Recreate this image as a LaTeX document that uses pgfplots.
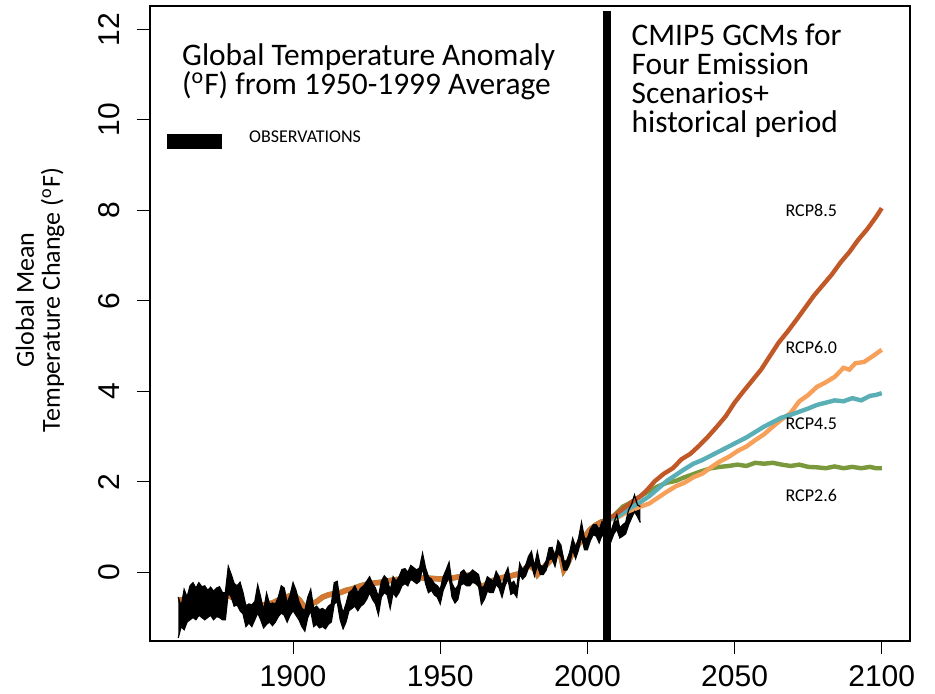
\documentclass[border=0pt]{standalone}
\usepackage{fontspec}
\setmainfont{Carlito}
\newfontfamily\arialfont{Liberation Sans}
\usepackage{pgfplots}
\usepackage{pgfplotstable}
\pgfplotsset{compat=1.18}
\usepgfplotslibrary{fillbetween}
\definecolor{c85}{RGB}{192,88,40}
\definecolor{c60}{RGB}{247,160,90}
\definecolor{c45}{RGB}{90,175,182}
\definecolor{c26}{RGB}{122,152,60}
\definecolor{histc}{RGB}{214,120,52}

\pgfplotstableread{
yr u l
1861 -0.55 -1.45
1862 -0.75 -1.20
1863 -0.38 -1.27
1864 -0.55 -1.10
1865 -0.30 -1.05
1866 -0.23 -1.00
1867 -0.35 -1.05
1868 -0.23 -0.95
1869 -0.32 -1.00
1870 -0.30 -1.05
1871 -0.40 -1.00
1872 -0.33 -0.95
1873 -0.42 -1.05
1874 -0.35 -0.98
1875 -0.32 -1.00
1876 -0.45 -1.05
1877 -0.45 -1.05
1878 0.13 -0.45
1879 -0.05 -0.55
1880 -0.25 -0.75
1881 -0.30 -0.72
1882 -0.22 -0.85
1883 -0.45 -0.92
1884 -0.75 -1.20
1885 -0.70 -1.12
1886 -0.72 -1.20
1887 -0.65 -1.05
1888 -0.28 -0.90
1889 -0.55 -1.05
1890 -0.85 -1.23
1891 -0.46 -1.15
1892 -0.70 -1.10
1893 -0.68 -1.18
1894 -0.70 -1.10
1895 -0.55 -0.98
1896 -0.30 -0.90
1897 -0.35 -0.95
1898 -0.68 -1.10
1899 -0.50 -0.95
1900 -0.23 -0.85
1901 -0.40 -0.95
1902 -0.65 -1.05
1903 -0.80 -1.20
1904 -0.85 -1.30
1905 -0.55 -1.00
1906 -0.38 -0.85
1907 -0.80 -1.20
1908 -0.75 -1.15
1909 -0.83 -1.23
1910 -0.80 -1.20
1911 -0.85 -1.25
1912 -0.75 -1.15
1913 -0.70 -1.10
1914 -0.23 -0.70
1915 -0.20 -0.65
1916 -0.65 -1.05
1917 -0.90 -1.25
1918 -0.70 -1.10
1919 -0.45 -0.85
1920 -0.40 -0.80
1921 -0.30 -0.75
1922 -0.45 -0.85
1923 -0.35 -0.75
1924 -0.30 -0.70
1925 -0.20 -0.60
1926 -0.10 -0.45
1927 -0.25 -0.60
1928 -0.35 -0.70
1929 -0.55 -0.94
1930 -0.20 -0.55
1931 -0.08 -0.45
1932 -0.15 -0.50
1933 -0.40 -0.80
1934 -0.10 -0.45
1935 -0.20 -0.55
1936 -0.10 -0.45
1937 0.06 -0.30
1938 0.08 -0.25
1939 0.00 -0.30
1940 0.15 -0.15
1941 0.10 -0.20
1942 0.05 -0.25
1943 0.10 -0.20
1944 0.42 0.10
1945 0.10 -0.25
1946 -0.10 -0.45
1947 -0.15 -0.40
1948 -0.25 -0.50
1949 -0.30 -0.55
1950 -0.38 -0.70
1951 -0.10 -0.40
1952 0.05 -0.25
1953 0.22 -0.10
1954 -0.25 -0.55
1955 -0.38 -0.68
1956 -0.30 -0.60
1957 0.00 -0.28
1958 0.05 -0.25
1959 -0.05 -0.30
1960 -0.02 -0.30
1961 0.05 -0.22
1962 0.00 -0.25
1963 -0.05 -0.30
1964 -0.35 -0.71
1965 -0.30 -0.60
1966 -0.10 -0.42
1967 -0.15 -0.45
1968 -0.20 -0.45
1969 0.02 -0.27
1970 -0.10 -0.35
1971 -0.31 -0.55
1972 -0.05 -0.30
1973 0.10 -0.15
1974 -0.25 -0.49
1975 -0.20 -0.45
1976 -0.35 -0.55
1977 0.20 -0.05
1978 0.05 -0.15
1979 0.15 -0.08
1980 0.35 0.10
1981 0.46 0.17
1982 0.13 -0.08
1983 0.45 0.15
1984 0.15 -0.05
1985 0.13 -0.05
1986 0.25 0.05
1987 0.54 0.28
1988 0.55 0.30
1989 0.35 0.13
1990 0.70 0.42
1991 0.60 0.35
1992 0.25 0.05
1993 0.25 0.05
1994 0.45 0.20
1995 0.75 0.50
1996 0.55 0.30
1997 0.75 0.50
1998 1.10 0.80
1999 0.75 0.50
2000 0.75 0.50
2001 0.95 0.70
2002 1.05 0.83
2003 1.05 0.80
2004 0.95 0.65
2005 1.12 0.83
2006 1.00 0.75
2007 1.05 0.80
2008 0.90 0.68
2009 1.10 0.85
2010 1.27 0.95
2011 0.98 0.76
2012 1.05 0.80
2013 1.10 0.85
2014 1.38 1.05
2015 1.50 1.20
2016 1.71 1.34
2017 1.49 1.23
2018 1.45 1.10
}\obstab

\pgfplotstableread{
yr t
1861 -0.62
1865 -0.58
1870 -0.52
1875 -0.50
1878 -0.52
1880 -0.57
1882 -0.60
1884 -0.80
1886 -0.82
1888 -0.76
1890 -0.72
1893 -0.68
1896 -0.58
1900 -0.50
1902 -0.60
1904 -0.78
1906 -0.70
1908 -0.65
1910 -0.55
1912 -0.50
1914 -0.47
1916 -0.45
1918 -0.40
1920 -0.37
1923 -0.30
1926 -0.25
1930 -0.22
1934 -0.17
1938 -0.14
1942 -0.12
1946 -0.13
1950 -0.15
1954 -0.13
1958 -0.08
1961 -0.05
1963 -0.25
1964 -0.33
1966 -0.25
1968 -0.18
1971 -0.12
1974 -0.08
1977 -0.03
1980 0.15
1982 0.08
1983 -0.05
1985 0.10
1988 0.30
1990 0.45
1991 0.35
1992 0.05
1993 0.15
1995 0.45
1997 0.62
1999 0.78
2001 0.95
2003 1.05
2005 1.12
}\histtab

\pgfplotstableread{
yr t
2005 1.12
2009 1.25
2012 1.40
2015 1.55
2018 1.68
2020 1.80
2023 2.02
2026 2.18
2029 2.30
2032 2.50
2035 2.62
2038 2.80
2041 3.00
2044 3.22
2047 3.45
2050 3.75
2053 4.00
2056 4.24
2059 4.48
2062 4.78
2065 5.08
2068 5.32
2071 5.58
2074 5.85
2077 6.12
2080 6.35
2083 6.58
2086 6.85
2089 7.08
2092 7.35
2095 7.58
2098 7.85
2100 8.05
}\rcpA

\pgfplotstableread{
yr t
2005 1.12
2010 1.20
2014 1.35
2018 1.45
2021 1.52
2024 1.65
2027 1.78
2030 1.90
2033 1.98
2036 2.10
2039 2.18
2042 2.32
2045 2.45
2048 2.55
2051 2.68
2054 2.78
2057 2.92
2060 3.05
2063 3.22
2066 3.38
2069 3.52
2072 3.78
2075 3.92
2078 4.10
2081 4.20
2084 4.32
2087 4.52
2089 4.48
2091 4.62
2094 4.65
2097 4.78
2100 4.92
}\rcpB

\pgfplotstableread{
yr t
2005 1.12
2010 1.22
2014 1.40
2018 1.55
2021 1.68
2024 1.85
2027 2.02
2030 2.15
2033 2.28
2036 2.40
2039 2.48
2042 2.58
2045 2.68
2048 2.78
2051 2.88
2054 2.98
2057 3.10
2060 3.22
2063 3.32
2066 3.42
2069 3.48
2072 3.55
2075 3.62
2078 3.70
2081 3.75
2084 3.80
2087 3.78
2090 3.85
2093 3.80
2096 3.90
2098 3.92
2100 3.96
}\rcpC

\pgfplotstableread{
yr t
2005 1.12
2009 1.25
2012 1.45
2015 1.55
2018 1.68
2021 1.80
2024 1.90
2027 1.98
2030 2.02
2033 2.10
2036 2.17
2039 2.24
2042 2.30
2045 2.33
2048 2.35
2051 2.38
2054 2.35
2057 2.42
2060 2.40
2063 2.42
2066 2.38
2069 2.35
2072 2.38
2075 2.33
2078 2.32
2081 2.30
2084 2.34
2087 2.30
2090 2.33
2093 2.30
2096 2.33
2098 2.30
2100 2.30
}\rcpD

\begin{document}
\begin{tikzpicture}
\begin{axis}[
  name=ax,
  set layers,
  width=380pt, height=317.5pt, scale only axis,
  xmin=1851.4, xmax=2109.6, ymin=-1.52, ymax=12.52,
  xtick={1900,1950,2000,2050,2100},
  ytick={0,2,4,6,8,10,12},
  tick align=outside, xtick pos=bottom, ytick pos=left,
  major tick length=6.5pt,
  tick style={black, line width=0.5pt},
  axis line style={line width=0.6pt},
  ticklabel style={font=\arialfont\fontsize{15}{17}\selectfont, inner sep=0pt},
  /pgf/number format/assume math mode=true,
  /pgf/number format/set thousands separator={},
  xticklabel shift=5.5pt,
  yticklabel style={rotate=90, anchor=south},
  yticklabel shift=8.5pt,
  ylabel={Global Mean\\Temperature Change (\textsuperscript{o}F)},
  ylabel style={align=center, font=\fontsize{13}{13}\selectfont, at={(rel axis cs:-0.1447,0.537)}, anchor=center},
  clip=true,
]
\addplot[c26, line width=2.8pt, on layer=axis background] table[x=yr,y=t] {\histtab};
\addplot[histc, line width=2.6pt, on layer=axis background] table[x=yr,y=t] {\histtab};
\addplot[c26, line width=2.2pt] table[x=yr,y=t] {\rcpD};
\addplot[c60, line width=2.2pt] table[x=yr,y=t] {\rcpB};
\addplot[c45, line width=2.2pt] table[x=yr,y=t] {\rcpC};
\addplot[c85, line width=2.2pt] table[x=yr,y=t] {\rcpA};
\addplot[name path=obsU, black, line width=0.6pt] table[x=yr,y=u] {\obstab};
\addplot[name path=obsL, black, line width=0.6pt] table[x=yr,y=l] {\obstab};
\addplot[black] fill between[of=obsU and obsL];
\addplot[black, line width=3.8pt] coordinates {(2006.7,-1.52) (2006.7,12.42)};

\node[anchor=base west, inner sep=0pt, font=\fontsize{15.7}{18}\selectfont] at (axis cs:1862.2,11.205) {Global Temperature Anomaly};
\node[anchor=base west, inner sep=0pt, font=\fontsize{15.7}{18}\selectfont] at (axis cs:1862.2,10.565) {(\textsuperscript{o}F) from 1950-1999 Average};
\node[anchor=base west, inner sep=0pt, font=\fontsize{15.7}{18}\selectfont] at (axis cs:2014.9,11.647) {CMIP5 GCMs for};
\node[anchor=base west, inner sep=0pt, font=\fontsize{15.7}{18}\selectfont] at (axis cs:2014.9,10.996) {Four Emission};
\node[anchor=base west, inner sep=0pt, font=\fontsize{15.7}{18}\selectfont] at (axis cs:2014.9,10.356) {Scenarios+};
\node[anchor=base west, inner sep=0pt, font=\fontsize{15.7}{18}\selectfont] at (axis cs:2014.9,9.715) {historical period};

\fill[black] (axis cs:1857.1,9.35) rectangle (axis cs:1875.8,9.70);
\node[anchor=base west, inner sep=0pt, font=\fontsize{9}{11}\selectfont] at (axis cs:1884.96,9.51) {OBSERVATIONS};

\node[anchor=base west, inner sep=0pt, font=\fontsize{9}{11}\selectfont] at (axis cs:2067.2,7.87) {RCP8.5};
\node[anchor=base west, inner sep=0pt, font=\fontsize{9}{11}\selectfont] at (axis cs:2067.2,4.83) {RCP6.0};
\node[anchor=base west, inner sep=0pt, font=\fontsize{9}{11}\selectfont] at (axis cs:2067.2,3.15) {RCP4.5};
\node[anchor=base west, inner sep=0pt, font=\fontsize{9}{11}\selectfont] at (axis cs:2067.2,1.56) {RCP2.6};
\end{axis}
\pgfresetboundingbox
\path[use as bounding box] ([xshift=-75pt,yshift=-26pt]ax.south west) rectangle ([xshift=12.5pt,yshift=3pt]ax.north east);
\end{tikzpicture}
\end{document}
